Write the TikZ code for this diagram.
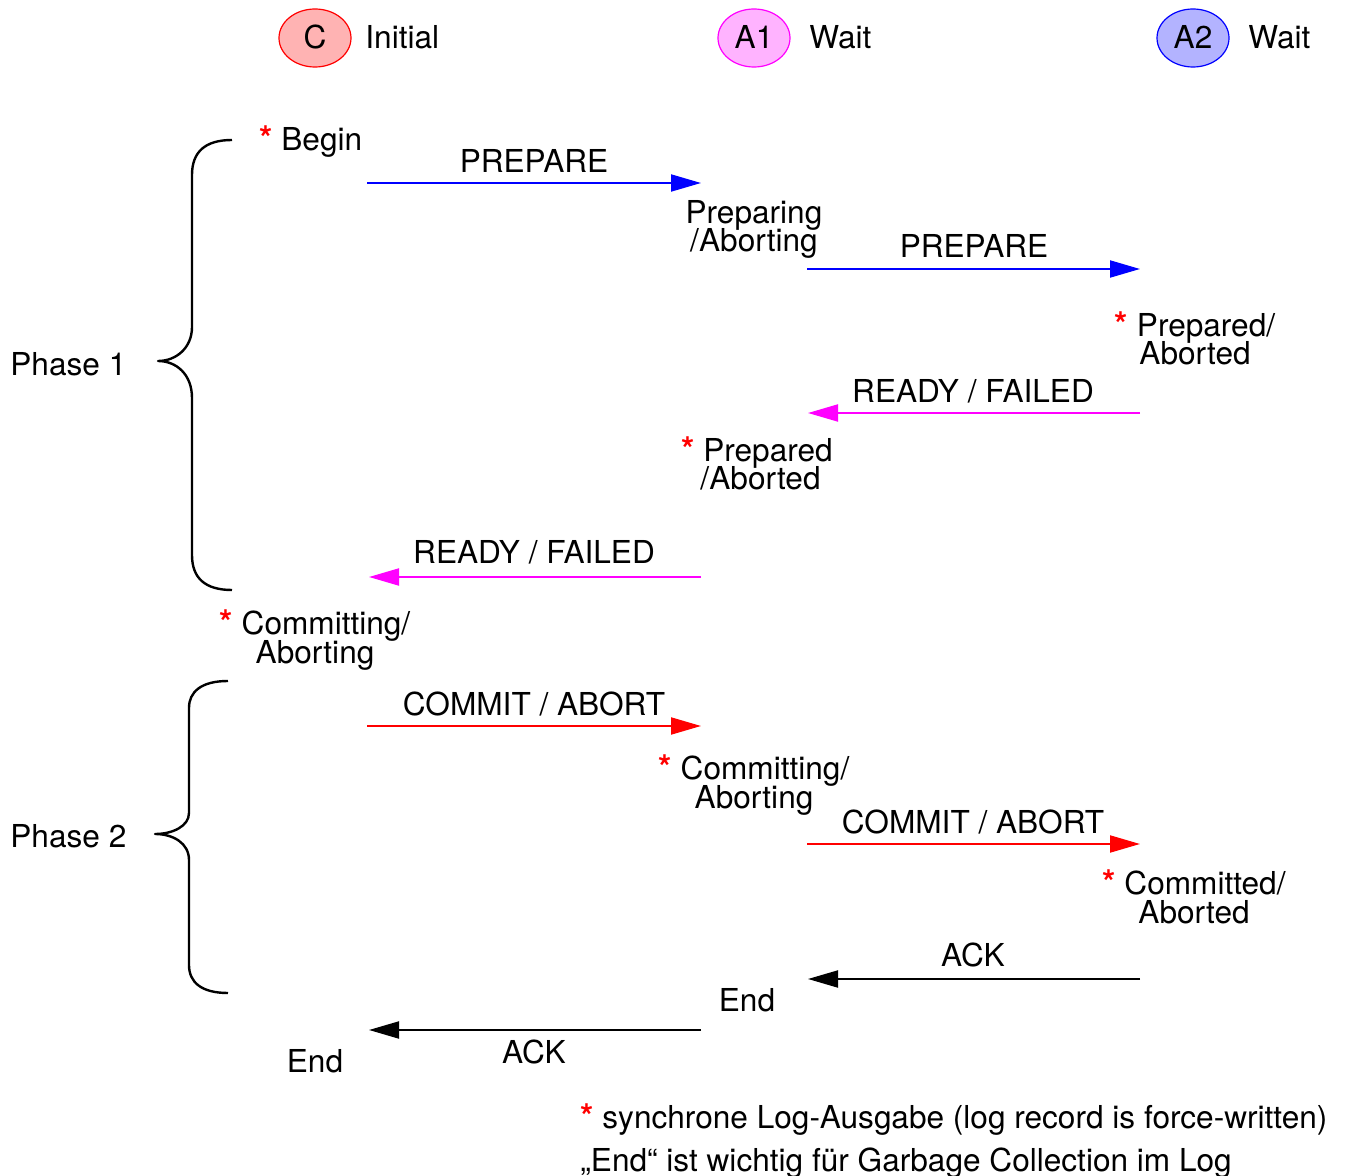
\documentclass[tikz,border=0pt]{standalone}
\usepackage{fontspec}
\setmainfont{TeX Gyre Heros}
\usetikzlibrary{shapes.geometric,arrows.meta}
\definecolor{cfill}{RGB}{255,179,179}
\definecolor{a1fill}{RGB}{255,179,255}
\definecolor{a2fill}{RGB}{179,179,255}
\definecolor{mag}{RGB}{255,0,255}
\definecolor{rd}{RGB}{255,0,0}
\definecolor{bl}{RGB}{0,0,255}
\newcommand{\diagfont}{\fontsize{15.8}{14.2}\selectfont\lineskiplimit=-20pt\relax\lineskip=0pt\relax}
\tikzset{
  every node/.style={font=\diagfont, inner sep=0pt},
  lbl/.style={anchor=base},
  lblw/.style={anchor=base west},
  state/.style={anchor=base, align=center},
  role/.style={ellipse, draw, line width=0.6pt, minimum width=36pt, minimum height=29pt, inner sep=0pt},
  msg/.style={line width=1pt, -{Triangle[length=15pt,width=8.5pt]}},
  brace/.style={line width=1.2pt, line join=round},
}
\newcommand{\rs}{\textcolor{rd}{\bfseries\fontsize{17}{14.2}\selectfont *}}
\begin{document}
\begin{tikzpicture}[x=0.5pt,y=-0.5pt]
\useasboundingbox (0,0) rectangle (1356,1176);

% legend
\node[role, draw=rd, fill=cfill] (C) at (315,38) {};
\node[lbl] (Ct) at (315,49) {C};
\node[lblw] (Ci) at (365,49) {Initial};
\node[role, draw=mag, fill=a1fill] (A1) at (754,38) {};
\node[lbl] (A1t) at (754,49) {A1};
\node[lblw] (A1w) at (809,49) {Wait};
\node[role, draw=bl, fill=a2fill] (A2) at (1193,38) {};
\node[lbl] (A2t) at (1193,49) {A2};
\node[lblw] (A2w) at (1248,49) {Wait};

% states (base = last line)
\node[lblw] (begin) at (259,151) {\rs\ Begin};
\node[state] (prep1) at (754,252) {Preparing\\/Aborting};
\node[state] (prep2) at (1195,365) {\rs\ Prepared/\\Aborted};
\node[state] (prep3) at (757,490) {\rs\ Prepared\\\hphantom{i}/Aborted};
\node[state] (comm1) at (315,663) {\rs\ Committing/\\Aborting};
\node[state] (comm2) at (754,808) {\rs\ Committing/\\Aborting};
\node[state] (comm3) at (1194,923) {\rs\ Committed/\\Aborted};
\node[lbl] (end2) at (747,1011) {End};
\node[lbl] (end1) at (315,1072) {End};

% phases
\node[lblw] (ph1) at (10,376) {Phase 1};
\node[lblw] (ph2) at (10,847) {Phase 2};

% arrow endpoints
\coordinate (p1s) at (367,183);  \coordinate (p1e) at (701,183);
\coordinate (p2s) at (807,269);  \coordinate (p2e) at (1140,269);
\coordinate (r1s) at (1140,413); \coordinate (r1e) at (808,413);
\coordinate (r2s) at (701,577);  \coordinate (r2e) at (369,577);
\coordinate (c1s) at (367,726);  \coordinate (c1e) at (701,726);
\coordinate (c2s) at (807,844);  \coordinate (c2e) at (1140,844);
\coordinate (k1s) at (1140,979); \coordinate (k1e) at (808,979);
\coordinate (k2s) at (701,1030); \coordinate (k2e) at (369,1030);

\draw[msg, bl] (p1s) -- (p1e);
\draw[msg, bl] (p2s) -- (p2e);
\draw[msg, mag] (r1s) -- (r1e);
\draw[msg, mag] (r2s) -- (r2e);
\draw[msg, rd] (c1s) -- (c1e);
\draw[msg, rd] (c2s) -- (c2e);
\draw[msg, black] (k1s) -- (k1e);
\draw[msg, black] (k2s) -- (k2e);

\node[lbl] (lp1) at (534,173) {PREPARE};
\node[lbl] (lp2) at (974,258) {PREPARE};
\node[lbl] (lr1) at (973,403) {READY / FAILED};
\node[lbl] (lr2) at (534,564) {READY / FAILED};
\node[lbl] (lc1) at (534,716) {COMMIT / ABORT};
\node[lbl] (lc2) at (973,833) {COMMIT / ABORT};
\node[lbl] (lk1) at (973,966) {ACK};
\node[lbl] (lk2) at (534,1063) {ACK};

% braces
\draw[brace] (232,140) .. controls (205,140) and (192,152) .. (192,175) -- (192,327)
  .. controls (192,348) and (176,361) .. (158,361)
  .. controls (176,361) and (192,374) .. (192,398) -- (192,555)
  .. controls (192,578) and (205,590) .. (232,590);
\draw[brace] (228,681) .. controls (201,681) and (189,692) .. (189,708) -- (189,813)
  .. controls (189,826) and (173,834) .. (155,834)
  .. controls (173,834) and (189,843) .. (189,860) -- (189,965)
  .. controls (189,982) and (201,993) .. (228,993);

% footnote
\node[anchor=base west] (note) at (580,1128) {\rs\ synchrone Log-Ausgabe (log record is force-written)};
\node[anchor=base west] (note2) at (580,1171) {„End“ ist wichtig für Garbage Collection im Log};
\end{tikzpicture}
\end{document}
